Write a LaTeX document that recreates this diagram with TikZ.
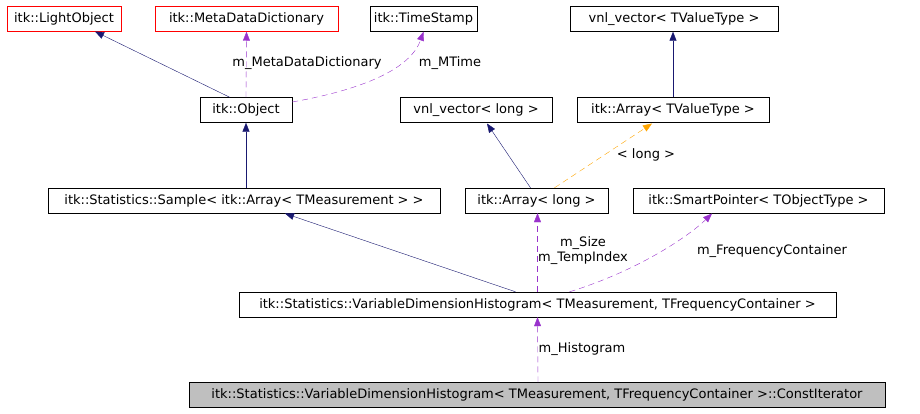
\documentclass[tikz,border=0pt]{standalone}
\usepackage{fontspec}
\setmainfont{DejaVu Sans}
\usetikzlibrary{arrows.meta}
\definecolor{nv}{RGB}{25,25,112}
\definecolor{pu}{RGB}{153,50,204}
\definecolor{og}{RGB}{255,165,0}
\begin{document}
\begin{tikzpicture}[x=1pt,y=-1pt,
  box/.style={draw=black,inner sep=0pt,font=\fontsize{13}{15}\selectfont,minimum height=25pt},
  red/.style={draw=red},
  inh/.style={draw=nv,-{Triangle[length=9pt,width=7pt,fill=nv]}},
  use/.style={draw=pu,dash pattern=on 6pt off 4pt,-{Triangle[length=9pt,width=7pt,fill=pu]}},
  tpl/.style={draw=og,dash pattern=on 6pt off 4pt,-{Triangle[length=9pt,width=7pt,fill=og]}},
  lab/.style={font=\fontsize{13}{15}\selectfont,inner sep=1pt}]
\useasboundingbox (0,0) rectangle (920,413);
\node[box,red,minimum width=114pt] (lo) at (64,19) {itk::LightObject};
\node[box,red,minimum width=183pt] (md) at (246.5,19) {itk::MetaDataDictionary};
\node[box,minimum width=107pt] (ts) at (423.5,19) {itk::TimeStamp};
\node[box,minimum width=208pt] (vt) at (674,19) {vnl\_vector< TValueType >};
\node[box,minimum width=92pt] (ob) at (246,110) {itk::Object};
\node[box,minimum width=152pt] (vl) at (476,110) {vnl\_vector< long >};
\node[box,minimum width=192pt] (at) at (673,110) {itk::Array< TValueType >};
\node[box,minimum width=392pt] (sa) at (244,200.5) {itk::Statistics::Sample< itk::Array< TMeasurement > >};
\node[box,minimum width=143pt] (al) at (536.5,200.5) {itk::Array< long >};
\node[box,minimum width=251pt] (sp) at (758.5,200.5) {itk::SmartPointer< TObjectType >};
\node[box,minimum width=597pt] (vd) at (537.5,304.5) {itk::Statistics::VariableDimensionHistogram< TMeasurement, TFrequencyContainer >};
\node[box,fill=black!25,minimum width=696pt] (ci) at (537,395) {itk::Statistics::VariableDimensionHistogram< TMeasurement, TFrequencyContainer >::ConstIterator};
\draw[inh] (ob.north west) ++(30,0) coordinate (c1) -- (95,31.5);
\draw[use] (ob.north) -- (md.south);
\node[lab] at (307,63) {m\_MetaDataDictionary};
\draw[use] (ob.east) ++(0,-8) .. controls (360,90) and (410,70) .. (ts.south);
\node[lab] at (450,63) {m\_MTime};
\draw[inh] (sa.north) ++(2,0) -- (ob.south);
\draw[inh] (al.north) ++(-6,0) -- (487,123.5);
\draw[tpl] (al.north) ++(18,0) -- (652,123.5);
\node[lab] at (646,155) {< long >};
\draw[inh] (at.north) -- (at.north |- vt.south);
\draw[inh] (vd.north) ++(-22,0) -- (285,213.5);
\draw[use] (vd.north) -- (vd.north |- al.south);
\node[lab] at (583,243) {m\_Size};
\node[lab] at (583,258) {m\_TempIndex};
\draw[use] (vd.north) ++(32,0) .. controls (640,270) and (690,235) .. (712,213.5);
\node[lab] at (772,251) {m\_FrequencyContainer};
\draw[use] (ci.north) ++(1,0) -- (vd.south);
\node[lab] at (582,349) {m\_Histogram};
\end{tikzpicture}
\end{document}
